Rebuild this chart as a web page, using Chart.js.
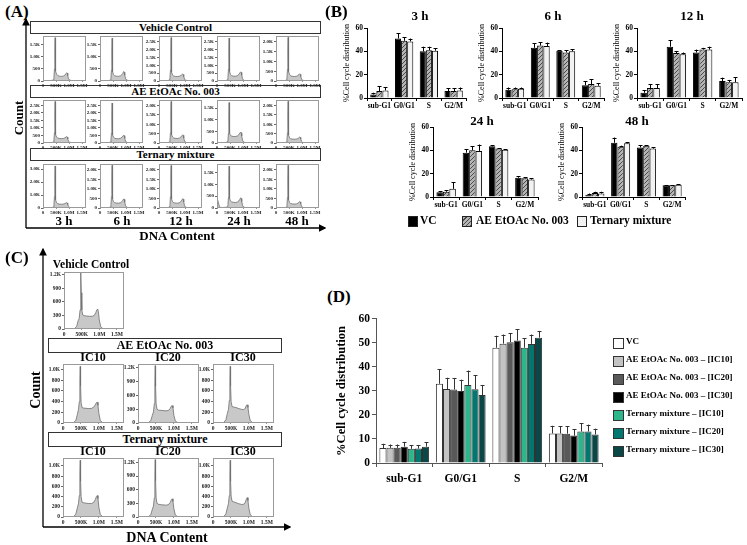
<!DOCTYPE html>
<html><head><meta charset="utf-8">
<script src="https://cdn.jsdelivr.net/npm/chart.js@4/dist/chart.umd.min.js"></script>
<style>
body{margin:0;background:#fff;}
#wrap{position:relative;width:747px;height:545px;background:#fff;overflow:hidden;font-family:'Liberation Serif','DejaVu Serif',serif;color:#000;}
.t{position:absolute;font-weight:bold;white-space:nowrap;}
.c{transform:translate(-50%,-50%);}
.box{position:absolute;border:1px solid #333;box-sizing:border-box;text-align:center;font-weight:bold;white-space:nowrap;}
canvas{position:absolute;}
.sq{position:absolute;box-sizing:border-box;border:1px solid #222;}
</style></head>
<body><div id="wrap">
<svg width="747" height="545" style="position:absolute;left:0;top:0">
 <defs><marker id="ah" markerWidth="6" markerHeight="6" refX="5" refY="3" orient="auto"><path d="M0,0 L6,3 L0,6 z" fill="#000"/></marker></defs>
 <line x1="26" y1="228" x2="26" y2="19" stroke="#000" stroke-width="1.3" marker-end="url(#ah)"/>
 <line x1="26" y1="228" x2="325" y2="228" stroke="#000" stroke-width="1.3" marker-end="url(#ah)"/>
 <line x1="43" y1="527" x2="43" y2="249" stroke="#000" stroke-width="1.3" marker-end="url(#ah)"/>
 <line x1="43" y1="527" x2="290" y2="527" stroke="#000" stroke-width="1.3" marker-end="url(#ah)"/>
</svg>
</div>
<script>
// ---------- DATA ----------
// Panel A/C histogram x grid (DNA content, in thousands)
const xsA = [0,100,200,300,360,400,420,440,455,465,475,490,520,560,620,700,780,840,880,910,930,950,980,1020,1100,1300,1600];
const xsC = [0,100,200,300,360,400,430,455,470,480,490,505,530,570,640,720,800,860,900,930,955,975,1000,1040,1100,1300,1700];
const xTicks = [0,500000,1000000,1500000];
// Panel A counts: Vehicle Control
const vc3h  = [20,15,15,20,30,60,150,500,1300,1780,900,400,280,230,200,190,200,240,300,340,320,220,100,40,15,5,0];
const vc6h  = [15,10,10,15,25,50,130,450,1200,1760,850,380,260,220,200,190,210,260,320,390,360,240,110,40,15,5,0];
const vc12h = [20,15,15,20,40,80,200,700,1900,2750,1300,560,380,320,290,280,300,350,400,440,410,280,120,50,20,5,0];
const vc24h = [30,20,20,25,40,80,220,750,2000,2720,1400,600,400,340,310,300,330,420,520,580,540,360,150,50,20,5,0];
const vc48h = [15,10,10,15,25,60,160,600,1600,2230,1100,480,330,270,240,230,240,280,330,370,340,230,100,40,15,5,0];
// AE EtOAc No. 003
const ae3h  = [20,15,15,20,35,70,200,700,1900,2750,1300,560,400,330,300,290,300,340,390,430,400,270,120,50,20,5,0];
const ae6h  = [20,15,15,20,35,70,190,650,1800,2650,1250,540,380,320,290,280,310,380,460,520,480,320,130,50,20,5,0];
const ae12h = [15,10,10,15,30,60,160,550,1500,2220,1050,450,320,270,250,240,260,320,390,440,410,270,110,40,15,5,0];
const ae24h = [20,15,15,20,30,60,130,420,1150,1740,850,420,330,300,280,280,300,360,430,470,440,300,120,40,15,5,0];
const ae48h = [15,10,10,15,25,50,150,550,1500,2230,1000,420,280,230,210,200,210,240,280,320,300,210,90,35,15,5,0];
// Ternary mixture
const tm3h  = [30,20,20,25,40,90,250,900,2300,3250,1500,620,420,340,300,290,300,340,390,420,390,270,120,50,20,5,0];
const tm6h  = [15,10,10,15,30,60,170,600,1600,2230,1050,470,330,280,260,250,270,330,410,480,450,300,120,45,15,5,0];
const tm12h = [15,10,10,15,30,60,170,600,1600,2220,1050,470,330,280,260,250,270,340,420,490,460,310,120,45,15,5,0];
const tm24h = [450,30,20,25,35,60,140,450,1200,1760,850,400,300,260,240,230,250,300,370,430,400,270,110,40,15,5,0];
const tm48h = [15,10,10,15,25,50,150,560,1520,2230,1000,430,290,240,215,205,215,250,300,340,320,220,95,35,15,5,0];
const yMaxA  = [[1850,1850,2850,2850,2300],[2850,2850,2300,1850,2300],[3400,2300,2300,1850,2300]];
const yStepA = [[500,500,500,500,500],[500,500,500,500,500],[1000,500,500,500,500]];
// Panel C counts
const cVC   = [5,5,5,10,60,180,230,420,900,1240,800,420,310,295,285,280,280,300,360,420,440,380,200,50,10,5,0];
const cAE10 = [5,5,5,10,50,160,250,400,800,1060,700,380,290,280,275,270,275,300,340,380,390,330,180,45,10,5,0];
const cAE20 = [5,5,5,10,60,170,240,420,900,1250,800,420,300,280,275,270,265,280,320,370,380,330,170,45,10,5,0];
const cAE30 = [5,5,5,10,60,180,250,420,800,1060,700,400,310,300,290,270,255,250,280,330,340,290,160,40,10,5,0];
const cTM10 = [5,5,5,10,60,180,260,420,850,1110,700,400,290,280,270,265,265,290,340,400,420,360,190,50,10,5,0];
const cTM20 = [5,5,5,10,60,170,240,420,900,1260,800,420,300,280,270,265,260,280,320,380,400,340,180,45,10,5,0];
const cTM30 = [5,5,5,10,60,180,260,420,820,1110,700,410,310,300,280,260,245,250,290,350,380,320,170,40,10,5,0];

// Panel B (% cell cycle distribution per time point)
const phases = ['sub-G1','G0/G1','S','G2/M'];
const times = ['3 h','6 h','12 h','24 h','48 h'];
const bVC     = [[3,51,40,6],[7,43,40.5,11],[4.5,44,39,14.5],[4,38,43.5,16.5],[2,46.5,42.5,10]];
const bVCerr  = [[1.5,4.5,4,2.5],[2,4,0.5,3.5],[2,5.5,2.5,3],[1,3,1,1.5],[1,4.5,2,0.3]];
const bAE     = [[6,49,41,6],[7.5,45,39,12],[8.5,38.5,41.5,13.5],[4.5,40,41.5,16],[3.5,43,44,10]];
const bAEerr  = [[4,3,3,2.5],[1.5,3,2,4],[3.5,1.5,1.5,2],[1.5,3.5,0.5,1],[1,1,0.5,0.3]];
const bTM     = [[6.5,48.5,40.5,6.5],[8,44.5,40,10.5],[8.5,37.5,41.5,13.5],[7,39.5,40.5,15],[3,46,41.5,10.5]];
const bTMerr  = [[3,2.5,2,2.5],[1,3,2,2],[3.5,1.5,2.5,4.5],[5.5,5.5,0.5,1],[1.5,1,1,0.5]];

// Panel D
const dLabels = ['VC','AE EtOAc No. 003 – [IC10]','AE EtOAc No. 003 – [IC20]','AE EtOAc No. 003 – [IC30]','Ternary mixture – [IC10]','Ternary mixture – [IC20]','Ternary mixture – [IC30]'];
const dVC    = [6.2,33.0,48.0,12.3];
const dAE10  = [6.3,30.8,49.7,12.3];
const dAE20  = [6.3,30.6,50.3,12.2];
const dAE30  = [6.8,30.0,51.0,11.4];
const dTM10  = [5.9,32.5,48.0,13.1];
const dTM20  = [6.0,30.7,49.6,13.1];
const dTM30  = [6.8,28.3,52.2,11.9];
const dVCerr   = [1.8,6.0,5.0,3.2];
const dAE10err = [1.4,4.7,3.8,3.0];
const dAE20err = [1.4,4.7,3.7,3.2];
const dAE30err = [2.0,4.7,4.8,2.6];
const dTM10err = [1.6,6.0,4.0,3.5];
const dTM20err = [1.5,5.8,3.9,2.9];
const dTM30err = [1.8,4.2,2.8,2.4];

// ---------- RENDER ----------
const F = "'Liberation Serif','DejaVu Serif',serif";
const wrap = document.getElementById('wrap');
Chart.defaults.font.family = F;
Chart.defaults.color = '#000';

function txt(s, x, y, size, opts={}) {
  const d = document.createElement('div');
  d.className = 't' + (opts.center!==false ? ' c' : '');
  d.textContent = s;
  d.style.left = x+'px'; d.style.top = y+'px'; d.style.fontSize = size+'px';
  if (opts.rot) d.style.transform = 'translate(-50%,-50%) rotate(-90deg)';
  wrap.appendChild(d); return d;
}
function box(s, x, y, w, h, size) {
  const d = document.createElement('div');
  d.className = 'box'; d.textContent = s;
  Object.assign(d.style,{left:x+'px',top:y+'px',width:w+'px',height:h+'px',fontSize:size+'px',lineHeight:(h-2)+'px'});
  wrap.appendChild(d);
}
function cv(x, y, w, h) {
  const c = document.createElement('canvas');
  c.width = w; c.height = h; c.style.left = x+'px'; c.style.top = y+'px';
  c.style.width = w+'px'; c.style.height = h+'px';
  wrap.appendChild(c); return c;
}

const framePlugin = {id:'frame', afterDraw(ch){ const a=ch.chartArea, c=ch.ctx; c.save(); c.strokeStyle='#9a9a9a'; c.lineWidth=1; c.strokeRect(Math.round(a.left)+0.5, Math.round(a.top)+0.5, Math.round(a.right-a.left)-1, Math.round(a.bottom-a.top)-1); c.restore(); }};
const errPlugin = {id:'err', afterDatasetsDraw(ch){
  const c=ch.ctx, ys=ch.scales.y;
  ch.data.datasets.forEach((ds,i)=>{
    if(!ds.errors) return;
    ch.getDatasetMeta(i).data.forEach((bar,j)=>{
      const v=ds.data[j], e=ds.errors[j];
      const yv=ys.getPixelForValue(v), yt=ys.getPixelForValue(v+e);
      const x=Math.round(bar.x)+0.5, cap=ds.cap||2;
      c.save(); c.strokeStyle=ds.errColor||'#000'; c.lineWidth=1; c.beginPath();
      c.moveTo(x,yv); c.lineTo(x,yt); c.moveTo(x-cap,Math.round(yt)+0.5); c.lineTo(x+cap,Math.round(yt)+0.5); c.stroke(); c.restore();
    });
  });
}};

function kfmt(v){ return v===0?'0':(v>=1000?(v/1000).toFixed(1)+'K':String(v)); }
function xfmt(v){ return v===0?'0':(v<1e6? (v/1000)+'K' : (v/1e6).toFixed(1)+'M'); }
function stepTicks(max, step){ const t=[]; for(let v=0; v<=max; v+=step) t.push({value:v}); return t; }

function hist(bx, by, bw, bh, xs, ys, ymax, ystep, xmax, fs) {
  const YW = fs>5?15:14, XH = fs>5?10:9, PT = 3;
  const c = cv(bx-YW, by-PT, bw+YW+6, bh+PT+XH);
  new Chart(c, {
    type:'line',
    data:{datasets:[{data: xs.map((x,i)=>({x:x*1000, y:ys[i]})), borderColor:'#6e6e6e', borderWidth:0.8, backgroundColor:'#c8c8c8', fill:'origin', pointRadius:0, tension:0}]},
    options:{responsive:false, animation:false, devicePixelRatio:1,
      layout:{padding:{top:PT,right:6,left:0,bottom:0}},
      plugins:{legend:{display:false}, tooltip:{enabled:false}},
      scales:{
        x:{type:'linear', min:0, max:xmax, grid:{display:true, drawOnChartArea:false, drawTicks:true, tickLength:1, color:'#999'}, border:{display:false},
           ticks:{autoSkip:false, maxRotation:0, minRotation:0, padding:1, font:{size:fs,weight:'bold'}, color:'#222', callback:xfmt},
           afterBuildTicks(s){ s.ticks = xTicks.map(v=>({value:v})); },
           afterFit(s){ s.height = XH; }},
        y:{min:0, max:ymax, grid:{display:true, drawOnChartArea:false, drawTicks:true, tickLength:2, color:'#666'}, border:{display:false},
           ticks:{autoSkip:false, padding:1, font:{size:fs,weight:'bold'}, color:'#222', callback:kfmt},
           afterBuildTicks(s){ s.ticks = stepTicks(ymax, ystep); },
           afterFit(s){ s.width = YW; }}
      }},
    plugins:[framePlugin]
  });
}

// ----- Panel A -----
txt('(A)', 5, 2, 17, {center:false});
box('Vehicle Control', 30, 21, 291, 13, 11);
box('AE EtOAc No. 003', 30, 85, 291, 13, 11);
box('Ternary mixture', 30, 148, 291, 13, 11);
const aSeries = [[vc3h,vc6h,vc12h,vc24h,vc48h],[ae3h,ae6h,ae12h,ae24h,ae48h],[tm3h,tm6h,tm12h,tm24h,tm48h]];
const aLeft = [43,100,159,217,276], aTop = [35,99,163], aH = [46,44,45];
for (let r=0;r<3;r++) for (let k=0;k<5;k++) hist(aLeft[k], aTop[r], 43, aH[r], xsA, aSeries[r][k], yMaxA[r][k], yStepA[r][k], 1650000, 5);
const aTimeX = [64,122,181,239,297];
times.forEach((t,k)=>txt(t, aTimeX[k], 221, 13));
txt('DNA Content', 177, 236, 13);
txt('Count', 19, 118, 13, {rot:true});

// ----- Panel C -----
txt('(C)', 5, 248, 17, {center:false});
txt('Vehicle Control', 91, 264, 11.5);
hist(64, 271, 60, 58, xsC, cVC, 1250, 300, 1700000, 5.5);
box('AE EtOAc No. 003', 48, 338, 234, 15, 12);
box('Ternary mixture', 48, 432, 234, 15, 12);
const icNames = ['IC10','IC20','IC30'];
const cLeft = [63,138,213];
const cRows = [[cAE10,cAE20,cAE30],[cTM10,cTM20,cTM30]];
const cMax = [[1100,1280,1100],[1150,1290,1150]];
const cStep = [[200,300,200],[200,300,200]];
const cTop = [363,457];
for (let r=0;r<2;r++){
  for (let k=0;k<3;k++){
    txt(icNames[k], cLeft[k]+30, cTop[r]-6, 12);
    hist(cLeft[k], cTop[r], 61, 60, xsC, cRows[r][k], cMax[r][k], cStep[r][k], 1700000, 5.5);
  }
}
txt('Count', 36, 390, 14, {rot:true});
txt('DNA Content', 167, 538, 14);

// ----- Panel B -----
txt('(B)', 325, 2, 17, {center:false});
function hatch(){
  const p=document.createElement('canvas'); p.width=4; p.height=4; const g=p.getContext('2d');
  g.fillStyle='#b4b4b4'; g.fillRect(0,0,4,4);
  g.strokeStyle='#4a4a4a'; g.lineWidth=1; g.beginPath(); g.moveTo(0,4); g.lineTo(4,0); g.moveTo(-1,1); g.lineTo(1,-1); g.moveTo(3,5); g.lineTo(5,3); g.stroke();
  return g.createPattern(p,'repeat');
}
const hatchPat = hatch();
const bPos = [[367,28,99],[502,28,102],[637,28,105],[433,127,105],[582,127,103]];
const bTitle = [[420,16],[553,16],[692,16],[482,121],[637,121]];
times.forEach((t,k)=>{
  const [px,py,pw] = bPos[k], YW=25, XH=14, PT=12;
  const c = cv(px-YW, py-PT, pw+YW+4, 70+PT+XH);
  new Chart(c,{type:'bar',
    data:{labels:phases, datasets:[
      {data:bVC[k], errors:bVCerr[k], backgroundColor:'#000', borderColor:'#000', borderWidth:1},
      {data:bAE[k], errors:bAEerr[k], backgroundColor:hatchPat, borderColor:'#000', borderWidth:1},
      {data:bTM[k], errors:bTMerr[k], backgroundColor:'#f2f2f2', borderColor:'#000', borderWidth:1}
    ]},
    options:{responsive:false, animation:false, devicePixelRatio:1,
      layout:{padding:{top:PT,right:4,left:0,bottom:0}},
      datasets:{bar:{categoryPercentage:0.74, barPercentage:1}},
      plugins:{legend:{display:false}, tooltip:{enabled:false}},
      scales:{
        x:{grid:{display:true, drawOnChartArea:false, drawTicks:true, tickLength:3, color:'#000', offset:true}, border:{color:'#000'},
           ticks:{font:{size:7.5,weight:'bold'}, color:'#000', padding:1, maxRotation:0, autoSkip:false}, afterFit(s){s.height=XH;}},
        y:{min:0,max:60, grid:{display:true, drawOnChartArea:false, tickLength:3, color:'#000'}, border:{color:'#000'},
           ticks:{stepSize:10, font:{size:7.5,weight:'bold'}, color:'#000', padding:1},
           title:{display:true, text:'%Cell cycle distribution', font:{size:8}, padding:0},
           afterFit(s){s.width=YW;}}
      }},
    plugins:[errPlugin]});
  txt(t, bTitle[k][0], bTitle[k][1], 13);
});
// B legend
const bl = [[408,'#000','VC',420],[462,null,'AE EtOAc No. 003',476],[577,'#f2f2f2','Ternary mixture',590]];
bl.forEach(([x,col,label,tx])=>{
  const s=document.createElement('div'); s.className='sq';
  Object.assign(s.style,{left:x+'px',top:'216px',width:'10px',height:'11px'});
  if(col) s.style.background=col; else s.style.background='repeating-linear-gradient(-45deg,#4a4a4a 0 1px,#b4b4b4 1px 3px)';
  wrap.appendChild(s);
  txt(label, tx, 214, 11.5, {center:false});
});

// ----- Panel D -----
txt('(D)', 327, 287, 17, {center:false});
const dData = [dVC,dAE10,dAE20,dAE30,dTM10,dTM20,dTM30];
const dErr = [dVCerr,dAE10err,dAE20err,dAE30err,dTM10err,dTM20err,dTM30err];
const dCol = ['#ffffff','#c3c3c3','#595959','#000000','#2db58c','#00786f','#0b4747'];
{
  const px=376, py=318, pw=226, ph=145, YW=42, XH=26, PT=8;
  const c = cv(px-YW, py-PT, pw+YW+6, ph+PT+XH);
  new Chart(c,{type:'bar',
    data:{labels:phases, datasets: dData.map((d,i)=>({label:dLabels[i], data:d, errors:dErr[i], backgroundColor:dCol[i], borderColor:'#333', borderWidth:1, errColor:'#333', cap:2}))},
    options:{responsive:false, animation:false, devicePixelRatio:1,
      layout:{padding:{top:PT,right:6,left:0,bottom:0}},
      datasets:{bar:{categoryPercentage:0.88, barPercentage:1}},
      plugins:{legend:{display:false}, tooltip:{enabled:false}},
      scales:{
        x:{grid:{display:true, drawOnChartArea:false, drawTicks:true, tickLength:4, color:'#555', offset:true}, border:{color:'#555'},
           ticks:{font:{size:11.5,weight:'bold'}, color:'#000', padding:5, maxRotation:0, autoSkip:false}, afterFit(s){s.height=XH;}},
        y:{min:0,max:60, grid:{display:true, drawOnChartArea:false, tickLength:4, color:'#555'}, border:{color:'#555'},
           ticks:{stepSize:10, font:{size:11.5,weight:'bold'}, color:'#000', padding:2},
           title:{display:true, text:'%Cell cycle distribution', font:{size:12.5,weight:'bold'}, padding:0},
           afterFit(s){s.width=YW;}}
      }},
    plugins:[errPlugin]});
}
dLabels.forEach((l,i)=>{
  const y = 338 + i*18;
  const s=document.createElement('div'); s.className='sq';
  Object.assign(s.style,{left:'613px',top:y+'px',width:'11px',height:'11px',background:dCol[i],borderColor:'#333'});
  wrap.appendChild(s);
  txt(l, 626, y-2, 9, {center:false});
});
</script>
</body></html>
